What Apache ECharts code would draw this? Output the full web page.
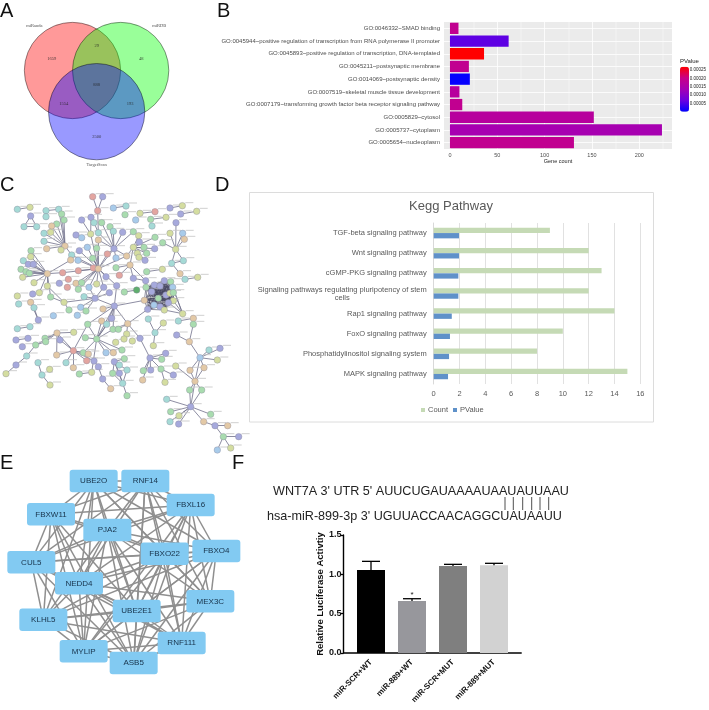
<!DOCTYPE html>
<html>
<head>
<meta charset="utf-8">
<style>html,body{margin:0;padding:0;background:#fff}#main{width:709px;height:710px}</style>
<script src="https://cdn.jsdelivr.net/npm/echarts@6/dist/echarts.min.js"></script>
</head>
<body>
<div id="main"></div>
<script>
// A: venn, layout units are 1/3 px of the panel
var vennSets = [[217.5, 211.5, 'miRanda'], [362, 211.5, 'miRDB'], [290, 335, 'TargetScan']];
var vennSetLabels = [[103, 78, 'miRanda'], [478, 78, 'miRDB'], [290, 495, 'TargetScan']];
var vennCounts = [[155, 176, '1659'], [290, 138, '29'], [424, 176, '48'], [290, 254, '888'], [191, 311, '1554'], [390, 311, '193'], [290, 410, '2500']];

// B: GO terms
var goTerms = [
    'GO:0046332~SMAD binding',
    'GO:0045944~positive regulation of transcription from RNA polymerase II promoter',
    'GO:0045893~positive regulation of transcription, DNA-templated',
    'GO:0045211~postsynaptic membrane',
    'GO:0014069~postsynaptic density',
    'GO:0007519~skeletal muscle tissue development',
    'GO:0007179~transforming growth factor beta receptor signaling pathway',
    'GO:0005829~cytosol',
    'GO:0005737~cytoplasm',
    'GO:0005654~nucleoplasm'
];
var goCounts = [9, 62, 36, 20, 21, 10, 13, 152, 224, 131];
var goPValues = [0.00019, 0.00006, 0.00027, 0.00019, 0.000003, 0.00017, 0.00019, 0.00017, 0.00014, 0.00019];
var goTicks = [0, 50, 100, 150, 200];
var goMinorTicks = [25, 75, 125, 175, 225];

// C: protein network, [x, y, colour key]
var netNodes = [
    [278,80,'r'],[308,80,'p'],[293,122,'r'],[52,118,'t'],[90,112,'y'],[92,138,'p'],[72,170,'t'],[110,170,'t'],
    [138,122,'t'],[176,118,'t'],[138,140,'t'],[185,132,'g'],[192,150,'g'],[170,162,'g'],[155,168,'o'],[132,190,'t'],[152,187,'y'],[132,214,'t'],[195,228,'o'],[183,240,'y'],[140,236,'o'],[93,242,'g'],
    [245,150,'p'],[273,142,'p'],[282,158,'t'],[305,158,'g'],[330,170,'g'],[340,184,'t'],[368,187,'p'],[400,185,'g'],[407,150,'b'],[375,134,'g'],[340,114,'b'],[378,108,'t'],[420,130,'y'],[465,125,'r'],[510,114,'p'],[547,107,'y'],[542,132,'p'],[590,124,'y'],[452,148,'g'],[498,142,'y'],[456,168,'t'],
    [528,158,'p'],[548,190,'b'],[510,190,'y'],[553,208,'o'],[527,238,'y'],[550,272,'t'],[515,280,'t'],[488,218,'g'],[540,311,'o'],[487,298,'y'],[440,305,'g'],
    [416,197,'y'],[465,202,'g'],[418,216,'p'],[400,232,'y'],[432,232,'g'],[464,236,'p'],[412,250,'y'],[440,250,'g'],[435,271,'p'],[417,262,'y'],[380,258,'o'],[390,285,'o'],[322,252,'r'],[348,264,'b'],[342,236,'p'],
    [228,195,'p'],[245,203,'b'],[272,192,'y'],[295,188,'t'],[295,210,'o'],[262,232,'b'],[290,235,'g'],[238,242,'p'],[215,255,'t'],[278,265,'g'],[234,271,'b'],[212,270,'o'],
    [280,294,'r'],[295,296,'o'],[235,302,'r'],[188,308,'r'],[142,311,'o'],
    [348,293,'g'],[318,320,'p'],[358,316,'r'],[400,325,'p'],[205,328,'r'],[178,340,'p'],[228,340,'o'],[202,352,'r'],[245,338,'g'],[235,358,'g'],[267,352,'b'],[290,342,'y'],[350,347,'p'],[311,352,'p'],[328,368,'p'],[252,380,'t'],[285,385,'p'],
    [70,272,'t'],[85,283,'p'],[100,283,'p'],[92,260,'y'],[63,298,'g'],[78,305,'g'],[88,310,'g'],[68,322,'y'],[102,338,'y'],[142,348,'y'],
    [52,378,'y'],[98,372,'p'],[118,368,'y'],[152,381,'g'],[192,397,'y'],[56,402,'t'],[92,397,'o'],[102,413,'t'],[207,420,'g'],[242,412,'b'],[232,436,'b'],[258,423,'g'],[160,437,'b'],[115,450,'p'],[309,417,'o'],[343,408,'p'],
    [373,366,'g'],[410,360,'d'],[437,332,'p'],[548,431,'y'],
    [445,447,'t'],[490,459,'y'],[465,488,'t'],[460,527,'y'],[535,453,'t'],[580,445,'o'],[580,463,'g'],
    [263,463,'g'],[305,453,'o'],[320,463,'t'],[335,445,'p'],[339,478,'g'],[355,478,'g'],[383,461,'o'],[380,492,'y'],[372,507,'y'],[347,517,'y'],[397,513,'y'],[420,505,'p'],
    [52,476,'t'],[90,470,'t'],[48,510,'p'],[84,505,'p'],[67,530,'p'],[107,525,'g'],[135,505,'g'],[137,515,'g'],[171,489,'o'],[180,510,'p'],[221,487,'y'],[256,503,'g'],[290,507,'g'],
    [80,558,'t'],[48,585,'p'],[18,611,'y'],[114,578,'t'],[126,615,'t'],[150,645,'y'],[149,598,'y'],[170,555,'o'],[198,578,'t'],[220,542,'r'],[220,593,'o'],[250,548,'g'],[265,552,'o'],[260,572,'r'],[282,573,'p'],[275,607,'y'],[238,612,'g'],[295,590,'p'],[318,548,'b'],[340,548,'o'],[366,540,'g'],[308,627,'p'],[332,656,'o'],[343,575,'p'],[373,566,'g'],[358,585,'t'],[358,610,'p'],[381,600,'t'],[338,610,'g'],[368,640,'t'],[381,677,'g'],
    [450,564,'p'],[485,568,'g'],[497,550,'p'],[430,602,'g'],[452,600,'p'],[483,597,'g'],[428,630,'o'],[495,637,'y'],[520,615,'p'],
    [530,495,'p'],[568,515,'o'],[527,588,'y'],[570,601,'o'],[600,563,'b'],[612,593,'o'],[627,540,'t'],[660,535,'p'],[652,570,'y'],[585,634,'o'],[569,660,'g'],[605,660,'g'],[500,688,'t'],[572,710,'p'],[512,725,'g'],[537,737,'y'],[510,755,'t'],[536,762,'p'],[632,733,'g'],[611,755,'o'],[645,767,'p'],[683,767,'o'],[670,800,'g'],[716,800,'p'],[652,840,'b'],[692,834,'y'],
    [555,328,'t'],[593,322,'y']
];
var netCluster = [
    [438,352,'g'],[455,365,'p'],[463,345,'p'],[480,348,'p'],[493,332,'p'],[512,335,'g'],[518,352,'b'],[498,375,'p'],[475,385,'g'],[510,370,'y'],[520,368,'g'],[520,392,'y'],[505,398,'p'],[480,410,'p'],[462,405,'b'],[443,418,'p'],[433,391,'o'],[493,420,'y']
];
// hub position, then the x,y pairs of its neighbours
var netHubs = [
    [295,296,[280,265,262,232,238,242,215,255,290,235,272,192,295,210,342,236,318,320,311,352,350,347,290,342,267,352,235,358,228,340,245,338,188,308,235,302,234,271,278,265,380,258,322,252]],
    [342,236,[295,188,340,184,368,187,305,158,330,170,400,185,322,252,348,264,380,258,295,210]],
    [195,228,[155,168,170,162,192,150,185,132,176,118,132,190,152,187,132,214,183,240,215,255,140,236]],
    [142,311,[85,283,100,283,70,272,92,260,63,298,78,305,88,310,68,322,102,338,142,348,93,242,212,270,188,308,152,381,118,368]],
    [285,385,[252,380,267,352,311,352,192,397,343,408,258,423,242,412,328,368]],
    [343,408,[263,463,320,463,335,445,339,478,290,507,433,391,383,461,309,417,350,347]],
    [383,461,[443,418,355,478,380,492,420,505,339,478]],
    [290,507,[320,463,335,445,339,478,256,503,263,463,275,607,250,548,318,548,340,548,305,453,366,540]],
    [220,542,[171,489,180,510,250,548,265,552,198,578,220,593,260,572,282,573,263,463,170,555]],
    [171,489,[221,487,137,515,135,505,180,510,107,525,170,555]],
    [107,525,[80,558,137,515]],[80,558,[48,585]],[48,585,[18,611]],[114,578,[126,615]],[126,615,[150,645]],
    [450,564,[420,505,485,568,497,550,430,602,452,600,483,597,428,630]],
    [483,597,[495,637,520,615]],
    [568,515,[530,495,580,463,600,563]],
    [600,563,[627,540,660,535,652,570,570,601,612,593,585,634]],
    [585,634,[569,660,605,660,612,593,570,601,572,710,527,588]],
    [572,710,[500,688,512,725,537,737,510,755,536,762,632,733,611,755,569,660,605,660]],
    [611,755,[645,767]],[645,767,[683,767,670,800]],[670,800,[716,800,652,840,692,834]],
    [527,238,[553,208,548,190,510,190,528,158,550,272,515,280,488,218]],[515,280,[540,311,550,272]],
    [400,232,[416,197,465,202,418,216,432,232,464,236,412,250,440,250,435,271,417,262,380,258,390,285]],
    [390,285,[400,325,358,316,348,293,437,332]],
    [465,488,[445,447,490,459,460,527]],
    [192,397,[142,348,152,381,207,420]],
    [115,450,[102,413,92,397]],
    [343,575,[373,566,358,585,358,610,381,600,338,610,368,640]],
    [368,640,[381,677,381,600,358,610,338,610]],
    [308,627,[295,590,332,656]],[295,590,[282,573]],
    [548,431,[520,392,505,398,493,420,518,352,512,335]],
    [293,122,[278,80,308,80,295,188]],[52,118,[90,112]],[92,138,[72,170,110,170]],[72,170,[110,170]],[138,122,[176,118]],
    [340,114,[378,108]],[465,125,[420,130]],[510,114,[547,107]],[542,132,[590,124]],[452,148,[498,142]],[555,328,[593,322]],
    [487,298,[440,305]],[373,366,[410,360]],[282,158,[295,188]],[272,192,[245,150,273,142]],[535,453,[580,445]],[580,445,[580,463]],
    [238,612,[275,607]],[48,510,[84,505]],[52,476,[90,470]],[437,332,[438,352]],[400,325,[437,332]]
];

// D: KEGG
var keggPathways = [
    'TGF-beta signaling pathway',
    'Wnt signaling pathway',
    'cGMP-PKG signaling pathway',
    'Signaling pathways regulating pluripotency of stem cells',
    'Rap1 signaling pathway',
    'FoxO signaling pathway',
    'Phosphatidylinositol signaling system',
    'MAPK signaling pathway'
];
var keggCount = [9, 12, 13, 12, 14, 10, 8, 15];
var keggPValue = [1.96, 1.96, 1.91, 1.91, 1.4, 1.26, 1.19, 1.11];

// E: hub gene network, layout units are 1/3 px of the panel
var hubGenes = [
    ['UBE2O',281,63],['RNF14',436,63],['FBXL16',572,135],['FBXW11',153,163],['PJA2',322,210],
    ['FBXO22',494,281],['FBXO4',649,273],['CUL5',94,307],['NEDD4',237,370],['MEX3C',631,424],
    ['UBE2E1',410,453],['KLHL5',130,479],['RNF111',545,549],['MYLIP',251,574],['ASB5',401,609]
];
var hubMissing = ['FBXW11|FBXO4', 'CUL5|FBXO4', 'CUL5|MEX3C', 'KLHL5|MEX3C', 'KLHL5|FBXO4', 'FBXW11|MEX3C', 'UBE2O|RNF111', 'RNF14|MYLIP', 'FBXL16|KLHL5', 'FBXW11|RNF111', 'CUL5|FBXL16', 'MYLIP|FBXO4', 'UBE2O|ASB5', 'RNF14|KLHL5'];

// F: luciferase assay
var lucGroups = ['miR-SCR+WT', 'miR-889+WT', 'miR-SCR+MUT', 'miR-889+MUT'];
var lucMeans = [1.055, 0.66, 1.105, 1.115];
var lucUpper = [1.165, 0.69, 1.127, 1.14];
var lucMarks = ['', '*', '', ''];

var SANS = '"Liberation Sans", Arial, sans-serif';
var nodeColors = {p:'#a6a9dc', g:'#a9dcaf', y:'#d4dda0', t:'#a5dad6', o:'#e3c9a6', r:'#e3a5a0', b:'#a8cbea', d:'#5fae6e'};
var geneBox = 'path://M3 0H45Q48 0 48 3V19.5Q48 22.5 45 22.5H3Q0 22.5 0 19.5V3Q0 0 3 0Z';

var netEdges = [];
netHubs.forEach(function(h){
    for (var i = 0; i < h[2].length; i += 2) {
        netEdges.push({coords: [[h[0], h[1]], [h[2][i], h[2][i + 1]]]});
    }
});
// the dense cluster is close to fully connected
var clusterEdges = [];
netCluster.forEach(function(a, i){
    netCluster.slice(i + 1).forEach(function(b){
        clusterEdges.push({coords: [[a[0], a[1]], [b[0], b[1]]]});
    });
});
var allNetNodes = netNodes.concat(netCluster);

var hubLinks = [];
hubGenes.forEach(function(a, i){
    hubGenes.slice(i + 1).forEach(function(b){
        if (hubMissing.indexOf(a[0] + '|' + b[0]) < 0) {
            hubLinks.push({source: a[0], target: b[0]});
        }
    });
});

function hiddenAxis(index, max, inverse) {
    return {type: 'value', gridIndex: index, min: 0, max: max, inverse: !!inverse, show: false};
}

function textSeries(data, xi, size, family, color) {
    return {
        type: 'scatter', xAxisIndex: xi, yAxisIndex: xi, data: data, symbolSize: 1, silent: true,
        itemStyle: {color: 'transparent'},
        label: {show: true, position: 'inside', fontSize: size, fontFamily: family, color: color,
            formatter: function(p){ return p.data[2]; }}
    };
}

var option = {
    animation: false,
    backgroundColor: '#fff',
    textStyle: {fontFamily: SANS},
    title: {text: 'Kegg Pathway', left: 451, top: 200, textAlign: 'center', padding: 0,
        textStyle: {fontSize: 13, fontWeight: 'normal', color: '#595959', fontFamily: SANS}},
    grid: [
        {left: 0, top: 0, width: 230, height: 180},
        {left: 444, top: 22, width: 228, height: 127, show: true, backgroundColor: '#ebebeb', borderWidth: 0},
        {left: 0, top: 170, width: 260, height: 290},
        {left: 433.7, top: 223, width: 206.6, height: 161},
        {left: 0, top: 460, width: 250, height: 250},
        {left: 350.5, top: 535, width: 164, height: 118},
        {left: 680, top: 66.7, width: 9, height: 45}
    ],
    xAxis: [
        hiddenAxis(0, 690),
        {type: 'value', gridIndex: 1, min: -6.3, max: 234.6,
            axisLine: {show: false},
            axisTick: {length: 2, lineStyle: {color: '#333'}, customValues: goTicks},
            axisLabel: {fontSize: 5.5, color: '#4d4d4d', margin: 3, fontFamily: SANS, customValues: goTicks},
            splitLine: {lineStyle: {color: '#fff', width: 0.8}},
            name: 'Gene count', nameLocation: 'middle', nameGap: 9,
            nameTextStyle: {fontSize: 5.5, color: '#222', fontFamily: SANS}},
        hiddenAxis(2, 780),
        {type: 'value', gridIndex: 3, min: 0, max: 16, interval: 2,
            axisLine: {show: false}, axisTick: {show: false},
            axisLabel: {fontSize: 7.5, color: '#595959', margin: 6, fontFamily: SANS},
            splitLine: {lineStyle: {color: '#d9d9d9', width: 0.8}}},
        hiddenAxis(4, 750),
        {type: 'category', gridIndex: 5, data: lucGroups,
            axisLine: {show: false},
            axisTick: {alignWithLabel: true, length: 3, lineStyle: {color: '#000', width: 1.3}},
            axisLabel: {interval: 0, rotate: 45, fontSize: 8, fontWeight: 'bold', color: '#111', margin: 8, fontFamily: SANS}},
        {type: 'value', gridIndex: 6, min: 0, max: 1, show: false}
    ],
    yAxis: [
        hiddenAxis(0, 540, true),
        {type: 'category', gridIndex: 1, data: goTerms, inverse: true,
            axisLine: {show: false},
            axisTick: {length: 2, alignWithLabel: true, lineStyle: {color: '#333'}},
            axisLabel: {fontSize: 6, color: '#4d4d4d', margin: 4, interval: 0, fontFamily: SANS},
            splitLine: {show: true, alignWithLabel: true, lineStyle: {color: '#fff', width: 0.8}}},
        hiddenAxis(2, 870, true),
        {type: 'category', gridIndex: 3, data: keggPathways, inverse: true,
            axisLine: {lineStyle: {color: '#d9d9d9'}}, axisTick: {show: false},
            axisLabel: {fontSize: 7.5, color: '#595959', margin: 7, interval: 0, fontFamily: SANS,
                formatter: function(v){
                    if (v.indexOf('pluripotency') < 0) return v;
                    return '{a|Signaling pathways regulating pluripotency of stem}\n{b|cells}';
                },
                rich: {a: {fontSize: 7.5, color: '#595959', fontFamily: SANS}, b: {fontSize: 7.5, color: '#595959', align: 'center', fontFamily: SANS}}}},
        hiddenAxis(4, 750, true),
        {type: 'value', gridIndex: 5, min: 0, max: 1.5, interval: 0.5, offset: 7,
            axisLine: {show: true, lineStyle: {color: '#000', width: 1.4}},
            axisTick: {show: true, length: 3, lineStyle: {color: '#000', width: 1.3}},
            axisLabel: {fontSize: 9, fontWeight: 'bold', color: '#111', margin: 2, fontFamily: SANS,
                formatter: function(v){ return v.toFixed(1); }},
            splitLine: {show: false},
            name: 'Relative Luciferase Activtiy', nameLocation: 'middle', nameGap: 18,
            nameTextStyle: {fontSize: 9.5, fontWeight: 'bold', color: '#111', fontFamily: SANS}},
        {type: 'value', gridIndex: 6, min: 0, max: 0.00027, interval: 0.00005, position: 'right',
            axisLine: {show: false}, axisTick: {show: false}, splitLine: {show: false},
            axisLabel: {fontSize: 4.5, color: '#222', margin: 3, fontFamily: SANS,
                formatter: function(v){ return v === 0 ? '' : v.toFixed(5); }}}
    ],
    visualMap: {
        type: 'continuous', seriesIndex: 4, dimension: 2, min: 0, max: 0.00027,
        left: 680, top: 66.7, padding: 0, itemWidth: 9, itemHeight: 45, calculable: false, text: null,
        inRange: {color: ['#0000ff', '#6a00e0', '#a400b4', '#c80088', '#ff0000']}
    },
    legend: {
        data: ['Count', 'PValue'], left: 421, top: 406, padding: 0, itemWidth: 4, itemHeight: 4, itemGap: 5,
        textStyle: {fontSize: 7.5, color: '#595959', fontFamily: SANS, padding: [0, 0, 0, -2]}, icon: 'rect'
    },
    series: [
        // A
        {type: 'scatter', xAxisIndex: 0, yAxisIndex: 0, data: vennSets.slice(0, 1), symbolSize: 96.3, silent: true,
            itemStyle: {color: 'rgba(255,0,0,0.5)', borderColor: 'rgba(0,0,0,0.75)', borderWidth: 0.7}},
        {type: 'scatter', xAxisIndex: 0, yAxisIndex: 0, data: vennSets.slice(1, 2), symbolSize: 96.3, silent: true,
            itemStyle: {color: 'rgba(0,255,0,0.5)', borderColor: 'rgba(0,0,0,0.75)', borderWidth: 0.7}},
        {type: 'scatter', xAxisIndex: 0, yAxisIndex: 0, data: vennSets.slice(2, 3), symbolSize: 96.3, silent: true,
            itemStyle: {color: 'rgba(0,0,255,0.5)', borderColor: 'rgba(0,0,0,0.75)', borderWidth: 0.7}},
        textSeries(vennSetLabels.concat(vennCounts), 0, 4.5, '"Liberation Serif", serif', '#222'),
        // B
        {type: 'bar', xAxisIndex: 1, yAxisIndex: 1, barWidth: '89%', z: 3,
            encode: {x: 0, y: 1},
            data: goCounts.map(function(c, i){ return [c, i, goPValues[i]]; }),
            markLine: {silent: true, symbol: 'none', z: 1, label: {show: false},
                lineStyle: {color: '#fff', width: 0.4, type: 'solid'},
                data: goMinorTicks.map(function(v){ return {xAxis: v}; })}},
        // C
        {type: 'lines', coordinateSystem: 'cartesian2d', xAxisIndex: 2, yAxisIndex: 2, data: netEdges, silent: true, z: 1,
            lineStyle: {color: '#70708a', width: 0.8, opacity: 1}},
        {type: 'lines', coordinateSystem: 'cartesian2d', xAxisIndex: 2, yAxisIndex: 2, data: clusterEdges, silent: true, z: 1,
            lineStyle: {color: '#454560', width: 0.7, opacity: 0.85}},
        {type: 'scatter', xAxisIndex: 2, yAxisIndex: 2, data: allNetNodes, silent: true, z: 2,
            symbol: 'rect', symbolSize: [8, 1], symbolOffset: [7, -3], itemStyle: {color: '#c4c4c4'}},
        {type: 'scatter', xAxisIndex: 2, yAxisIndex: 2, data: allNetNodes, silent: true, z: 3, symbolSize: 6.5,
            itemStyle: {borderColor: '#8c8c9c', borderWidth: 0.4, opacity: 1,
                color: function(p){ return nodeColors[p.data[2]]; }}},
        // D
        {type: 'bar', name: 'Count', xAxisIndex: 3, yAxisIndex: 3, data: keggCount, barWidth: 5.3, barGap: 0,
            itemStyle: {color: '#c5dab5'}},
        {type: 'bar', name: 'PValue', xAxisIndex: 3, yAxisIndex: 3, data: keggPValue, barWidth: 5.3, barGap: 0,
            itemStyle: {color: '#5f91c9'}},
        // E
        {type: 'graph', layout: 'none', coordinateSystem: 'cartesian2d', xAxisIndex: 4, yAxisIndex: 4,
            silent: true, symbol: geneBox, symbolSize: [48, 22.5],
            data: hubGenes.map(function(g){ return {name: g[0], value: [g[1], g[2]]}; }),
            links: hubLinks,
            lineStyle: {color: '#8f8f8f', width: 1.5, opacity: 1, curveness: 0},
            itemStyle: {color: '#82caf2', opacity: 1},
            label: {show: true, position: 'inside', fontSize: 8, color: '#17324a', fontFamily: SANS}},
        // F
        {type: 'bar', xAxisIndex: 5, yAxisIndex: 5, barWidth: 28,
            data: lucMeans.map(function(v, i){
                return {value: v, itemStyle: {color: ['#000000', '#97979c', '#7f7f7f', '#d2d2d2'][i]}};
            })},
        {type: 'custom', xAxisIndex: 5, yAxisIndex: 5, silent: true, z: 4,
            encode: {x: 0, y: [1, 2]},
            data: lucMeans.map(function(v, i){ return [i, v, lucUpper[i], lucMarks[i]]; }),
            renderItem: function(params, api){
                var base = api.coord([api.value(0), api.value(1)]);
                var top = api.coord([api.value(0), api.value(2)]);
                var st = {stroke: '#000', lineWidth: 1.3};
                return {type: 'group', children: [
                    {type: 'line', shape: {x1: base[0], y1: base[1], x2: top[0], y2: top[1]}, style: st},
                    {type: 'line', shape: {x1: top[0] - 9, y1: top[1], x2: top[0] + 9, y2: top[1]}, style: st},
                    {type: 'text', x: top[0], y: top[1] - 8, style: {text: lucMarks[params.dataIndex], align: 'center', fontSize: 8, fill: '#111', fontFamily: SANS}}
                ]};
            }}
    ],
    graphic: [
        {type: 'rect', z: -1, shape: {x: 249.5, y: 192.5, width: 404, height: 229.5}, style: {fill: '#fff', stroke: '#dcdcdc', lineWidth: 1}},
        {type: 'line', shape: {x1: 343.3, y1: 653, x2: 521.7, y2: 653}, style: {stroke: '#000', lineWidth: 1.4}},
        {type: 'text', x: 0, y: 1, style: {text: 'A', fontSize: 20, fill: '#111', fontFamily: SANS}},
        {type: 'text', x: 217, y: 1, style: {text: 'B', fontSize: 20, fill: '#111', fontFamily: SANS}},
        {type: 'text', x: 0, y: 175, style: {text: 'C', fontSize: 20, fill: '#111', fontFamily: SANS}},
        {type: 'text', x: 215, y: 175, style: {text: 'D', fontSize: 20, fill: '#111', fontFamily: SANS}},
        {type: 'text', x: 0, y: 453, style: {text: 'E', fontSize: 20, fill: '#111', fontFamily: SANS}},
        {type: 'text', x: 232, y: 453, style: {text: 'F', fontSize: 20, fill: '#111', fontFamily: SANS}},
        {type: 'text', x: 273, y: 485, style: {text: "WNT7A 3' UTR 5' AUUCUGAUAAAAUAAUAUUAAU", fontSize: 12.6, fill: '#222', fontFamily: SANS}},
        {type: 'text', x: 267, y: 510, style: {text: "hsa-miR-899-3p 3' UGUUACCAACAGGCUAUAAUU", fontSize: 12.6, fill: '#222', fontFamily: SANS}},
        {type: 'line', shape: {x1: 505, y1: 497, x2: 505, y2: 510}, style: {stroke: '#222', lineWidth: 0.8}},
        {type: 'line', shape: {x1: 513.3, y1: 497, x2: 513.3, y2: 510}, style: {stroke: '#222', lineWidth: 0.8}},
        {type: 'line', shape: {x1: 522.7, y1: 497, x2: 522.7, y2: 510}, style: {stroke: '#222', lineWidth: 0.8}},
        {type: 'line', shape: {x1: 531.7, y1: 497, x2: 531.7, y2: 510}, style: {stroke: '#222', lineWidth: 0.8}},
        {type: 'line', shape: {x1: 540, y1: 497, x2: 540, y2: 510}, style: {stroke: '#222', lineWidth: 0.8}},
        {type: 'line', shape: {x1: 548.7, y1: 497, x2: 548.7, y2: 510}, style: {stroke: '#222', lineWidth: 0.8}},
        {type: 'text', x: 680, y: 58, style: {text: 'PValue', fontSize: 6, fill: '#222', fontFamily: SANS, align: 'left'}}
    ]
};

var chart = echarts.init(document.getElementById('main'));
chart.setOption(option);
</script>
</body>
</html>
